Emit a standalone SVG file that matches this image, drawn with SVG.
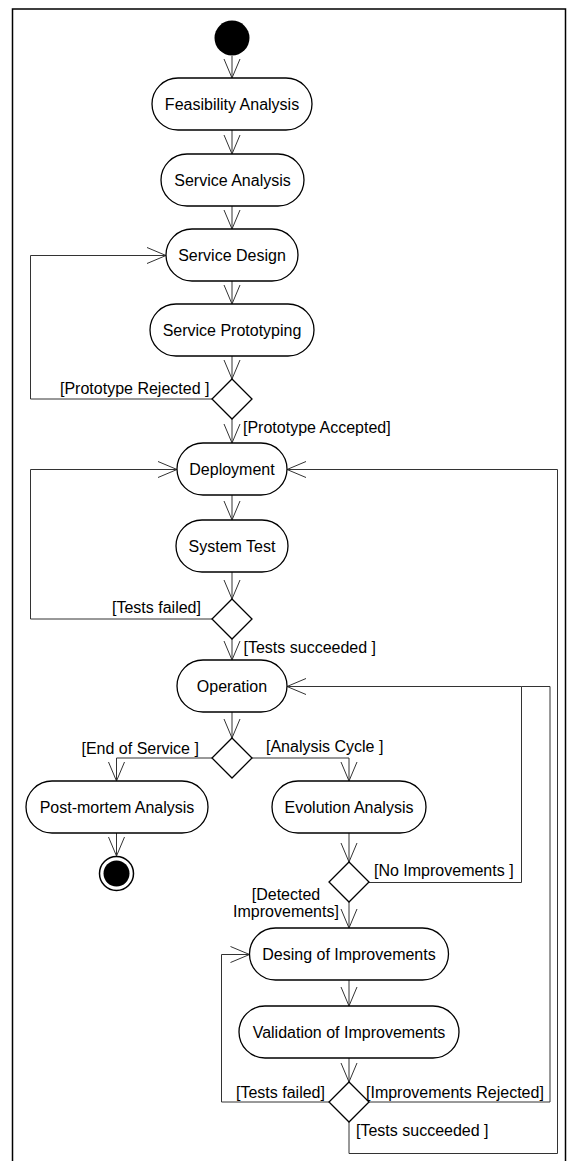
<svg xmlns="http://www.w3.org/2000/svg" width="567" height="1161" viewBox="0 0 567 1161">
<style>
.frame{fill:none;stroke:#000;stroke-width:1.5}
.act{fill:#fff;stroke:#000;stroke-width:1.3}
.dec{fill:#fff;stroke:#000;stroke-width:1.3}
.t{font-family:"Liberation Sans",Arial,sans-serif;font-size:16px;fill:#000}
.m{text-anchor:middle}
.c{fill:none;stroke:#333;stroke-width:1}
.a{marker-end:url(#arr)}
</style>
<defs>
<marker id="arr" markerUnits="userSpaceOnUse" markerWidth="24" markerHeight="20" viewBox="-21 -10 24 20" refX="0" refY="0" orient="auto" overflow="visible">
<path d="M-19,-8 L0,0 L-19,8" fill="none" stroke="#333" stroke-width="1"/>
</marker>
</defs>
<rect class="frame" x="12.5" y="9" width="553" height="1160"/>
<g id="connectors">
<path class="c a" d="M232,56 L232,78"/>
<path class="c a" d="M232,130 L232,154"/>
<path class="c a" d="M232,206 L232,229"/>
<path class="c a" d="M232,281 L232,304"/>
<path class="c a" d="M232,356 L232,379"/>
<path class="c a" d="M212,399 L30.5,399 L30.5,255.5 L166,255.5"/>
<path class="c a" d="M232,419 L232,443"/>
<path class="c a" d="M232,495 L232,520"/>
<path class="c a" d="M232,572 L232,599"/>
<path class="c a" d="M212,619 L30.5,619 L30.5,469.5 L177,469.5"/>
<path class="c a" d="M232,639 L232,660"/>
<path class="c a" d="M232,712 L232,738"/>
<path class="c a" d="M212,758 L116.5,758 L116.5,781"/>
<path class="c a" d="M252,758 L349,758 L349,781"/>
<path class="c a" d="M116.5,833 L116.5,856"/>
<path class="c a" d="M349,833 L349,862"/>
<path class="c a" d="M369,882.5 L521.5,882.5 L521.5,686.5 L287,686.5"/>
<path class="c a" d="M349,902 L349,928"/>
<path class="c a" d="M349,980 L349,1006"/>
<path class="c a" d="M349,1058 L349,1082"/>
<path class="c a" d="M329,1102 L221.5,1102 L221.5,954.5 L249.5,954.5"/>
<path class="c" d="M369,1102 L550,1102 L550,686.5 L521.5,686.5"/>
<path class="c a" d="M349,1122 L349,1153.5 L557.5,1153.5 L557.5,469.5 L287,469.5"/>
</g>
<g id="start"><circle cx="232" cy="38" r="17.5" fill="#000"/></g>
<g id="feasibility"><rect class="act" x="152" y="78" width="160" height="52" rx="26"/><text class="t m" x="232" y="110">Feasibility Analysis</text></g>
<g id="service-analysis"><rect class="act" x="161" y="154" width="143" height="52" rx="26"/><text class="t m" x="232.5" y="186">Service Analysis</text></g>
<g id="service-design"><rect class="act" x="166" y="229" width="132" height="52" rx="26"/><text class="t m" x="232" y="261">Service Design</text></g>
<g id="service-prototyping"><rect class="act" x="150" y="304" width="164" height="52" rx="26"/><text class="t m" x="232" y="336">Service Prototyping</text></g>
<g id="decision-prototype"><path class="dec" d="M232,379 L252,399 L232,419 L212,399 Z"/><text class="t" x="60" y="394">[Prototype Rejected ]</text><text class="t" x="243" y="432.5">[Prototype Accepted]</text></g>
<g id="deployment"><rect class="act" x="177" y="443" width="110" height="52" rx="26"/><text class="t m" x="232" y="475">Deployment</text></g>
<g id="system-test"><rect class="act" x="176" y="520" width="112" height="52" rx="26"/><text class="t m" x="232" y="552">System Test</text></g>
<g id="decision-tests"><path class="dec" d="M232,599 L252,619 L232,639 L212,619 Z"/><text class="t" x="112" y="613">[Tests failed]</text><text class="t" x="243.5" y="652.5">[Tests succeeded ]</text></g>
<g id="operation"><rect class="act" x="177" y="660" width="110" height="52" rx="26"/><text class="t m" x="232" y="692">Operation</text></g>
<g id="decision-operation"><path class="dec" d="M232,738 L252,758 L232,778 L212,758 Z"/><text class="t" x="81.5" y="753.5">[End of Service ]</text><text class="t" x="266" y="752">[Analysis Cycle ]</text></g>
<g id="post-mortem"><rect class="act" x="26" y="781" width="182" height="52" rx="26"/><text class="t m" x="117" y="813">Post-mortem Analysis</text></g>
<g id="end"><circle cx="116.5" cy="873.5" r="17" fill="#fff" stroke="#000" stroke-width="1.5"/><circle cx="116.5" cy="873.5" r="13" fill="#000"/></g>
<g id="evolution"><rect class="act" x="272" y="781" width="154" height="52" rx="26"/><text class="t m" x="349" y="813">Evolution Analysis</text></g>
<g id="decision-evolution"><path class="dec" d="M349,862 L369,882 L349,902 L329,882 Z"/><text class="t" x="374" y="876">[No Improvements ]</text><text class="t m" x="286" y="900">[Detected</text><text class="t m" x="286" y="916.5">Improvements]</text></g>
<g id="desing"><rect class="act" x="249.5" y="928" width="199" height="52" rx="26"/><text class="t m" x="349" y="960">Desing of Improvements</text></g>
<g id="validation"><rect class="act" x="239" y="1006" width="220" height="52" rx="26"/><text class="t m" x="349" y="1038">Validation of Improvements</text></g>
<g id="decision-validation"><path class="dec" d="M349,1082 L369,1102 L349,1122 L329,1102 Z"/><text class="t" x="236" y="1097.5">[Tests failed]</text><text class="t" x="366" y="1097.5">[Improvements Rejected]</text><text class="t" x="356" y="1136">[Tests succeeded ]</text></g>
</svg>
